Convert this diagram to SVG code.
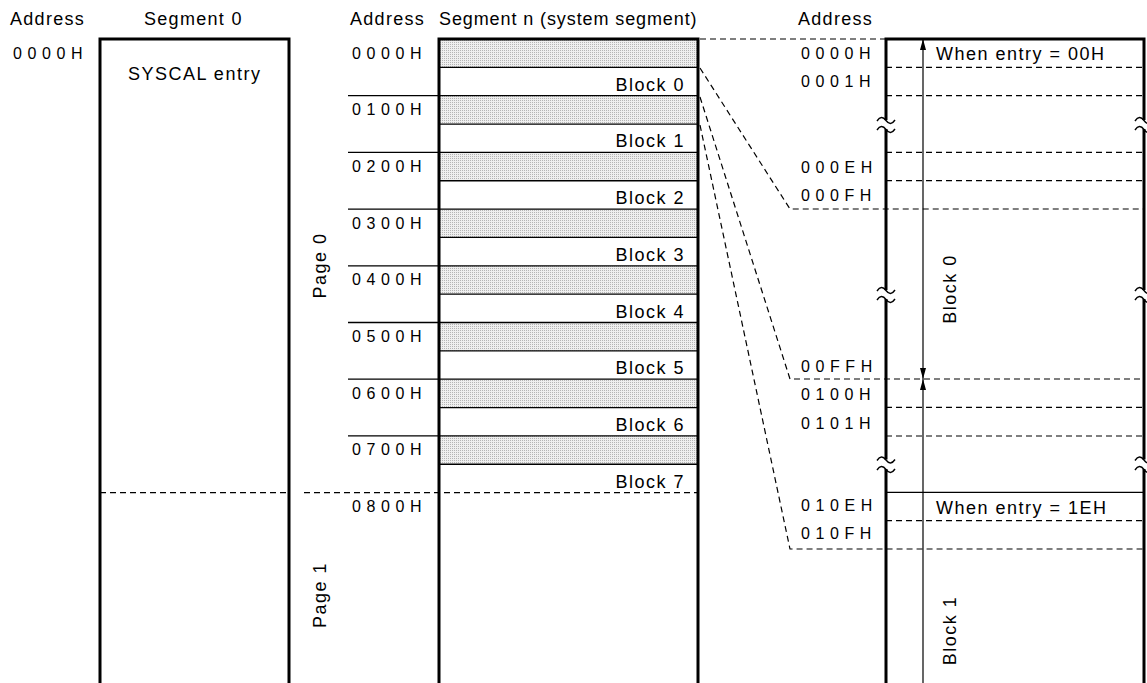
<svg xmlns="http://www.w3.org/2000/svg" width="1147" height="683" viewBox="0 0 1147 683">
<style>
text{font-family:"Liberation Sans",Arial,Helvetica,sans-serif;fill:#000}
.h{font-size:18px;letter-spacing:1.3px}
.lb{font-size:18px;letter-spacing:1.5px}
.ad{font-size:16px;letter-spacing:5.6px}
.edge{fill:none;stroke:#000;stroke-width:3}
.sep{stroke:#000;stroke-width:1.3;fill:none}
.dash{stroke:#000;stroke-width:1.2;stroke-dasharray:6 4;fill:none}
.brk{fill:none;stroke:#000;stroke-width:1.4}
.grey{fill:url(#dots)}
.arr{stroke:#000;stroke-width:1.2;fill:none}
</style>
<defs>
<pattern id="dots" width="2" height="2" patternUnits="userSpaceOnUse">
<rect width="2" height="2" fill="#efefef"/>
<rect width="1" height="1" fill="#b5b5b5"/>
</pattern>
<marker id="ah" viewBox="0 0 11 6" refX="11" refY="3" markerWidth="11" markerHeight="6" markerUnits="userSpaceOnUse" orient="auto-start-reverse">
<path d="M0,0 L11,3 L0,6 z" fill="#000"/>
</marker>
<path id="tilde" d="M-9,1 C-6,-3.5 -3,-3.5 0,0.5 C3,4.5 6,4.5 9,0" class="brk"/>
</defs>

<g id="headers">
<text class="h" x="10" y="25">Address</text>
<text class="h" x="144" y="25">Segment 0</text>
<text class="h" x="350" y="25">Address</text>
<text class="h" x="439" y="25" style="letter-spacing:0.9px">Segment n (system segment)</text>
<text class="h" x="798" y="25">Address</text>
</g>

<g id="segment0">
<path class="edge" d="M100,683 V39 H289 V683"/>
<text class="ad" x="13" y="58.5">0000H</text>
<text class="lb" x="128" y="80">SYSCAL entry</text>
<text class="lb" transform="translate(326,265.5) rotate(-90)" text-anchor="middle">Page 0</text>
<text class="lb" transform="translate(326,595) rotate(-90)" text-anchor="middle">Page 1</text>
</g>

<g id="segmentN">
<rect class="grey" x="439" y="39" width="259" height="28.35"/>
<rect class="grey" x="439" y="95.7" width="259" height="28.35"/>
<rect class="grey" x="439" y="152.4" width="259" height="28.35"/>
<rect class="grey" x="439" y="209.1" width="259" height="28.35"/>
<rect class="grey" x="439" y="265.8" width="259" height="28.35"/>
<rect class="grey" x="439" y="322.5" width="259" height="28.35"/>
<rect class="grey" x="439" y="379.2" width="259" height="28.35"/>
<rect class="grey" x="439" y="435.9" width="259" height="28.35"/>
<path class="sep" d="M439,67.35 H698 M348,95.7 H698 M439,124.05 H698 M348,152.4 H698 M439,180.75 H698 M348,209.1 H698 M439,237.45 H698 M348,265.8 H698 M439,294.15 H698 M348,322.5 H698 M439,350.85 H698 M348,379.2 H698 M439,407.55 H698 M348,435.9 H698 M439,464.25 H698"/>
<path class="edge" d="M439,683 V39 H698 V683"/>
<text class="ad" x="352" y="58.5">0000H</text>
<text class="ad" x="352" y="115.2">0100H</text>
<text class="ad" x="352" y="171.9">0200H</text>
<text class="ad" x="352" y="228.6">0300H</text>
<text class="ad" x="352" y="285.3">0400H</text>
<text class="ad" x="352" y="342">0500H</text>
<text class="ad" x="352" y="398.7">0600H</text>
<text class="ad" x="352" y="455.4">0700H</text>
<text class="ad" x="352" y="512.1">0800H</text>
<text class="lb" x="685" y="90.7" text-anchor="end">Block 0</text>
<text class="lb" x="685" y="147.4" text-anchor="end">Block 1</text>
<text class="lb" x="685" y="204.1" text-anchor="end">Block 2</text>
<text class="lb" x="685" y="260.8" text-anchor="end">Block 3</text>
<text class="lb" x="685" y="317.5" text-anchor="end">Block 4</text>
<text class="lb" x="685" y="374.2" text-anchor="end">Block 5</text>
<text class="lb" x="685" y="430.9" text-anchor="end">Block 6</text>
<text class="lb" x="685" y="487.6" text-anchor="end">Block 7</text>
</g>

<g id="blockDetail">
<path class="dash" d="M886,67.3 H1144 M886,95.6 H1144 M886,152.3 H1144 M886,180.6 H1144 M886,407.3 H1144 M886,436 H1144 M886,520.7 H1144"/>
<path class="sep" d="M886,492.3 H1144"/>
<path class="edge" d="M886,683 V469 M886,459.5 V299 M886,290 V129 M886,120 V39 H1144 V120 M1144,129 V290 M1144,299 V459.5 M1144,469 V683"/>
<use href="#tilde" x="886" y="120"/>
<use href="#tilde" x="886" y="129"/>
<use href="#tilde" x="886" y="290"/>
<use href="#tilde" x="886" y="299"/>
<use href="#tilde" x="886" y="459.5"/>
<use href="#tilde" x="886" y="469"/>
<use href="#tilde" x="1144" y="120"/>
<use href="#tilde" x="1144" y="129"/>
<use href="#tilde" x="1144" y="290"/>
<use href="#tilde" x="1144" y="299"/>
<use href="#tilde" x="1144" y="459.5"/>
<use href="#tilde" x="1144" y="469"/>
<path class="arr" d="M923,379 V39" marker-start="url(#ah)" marker-end="url(#ah)"/>
<path class="arr" d="M923,379 V683" marker-start="url(#ah)"/>
<text class="ad" x="801" y="59">0000H</text>
<text class="ad" x="801" y="87">0001H</text>
<text class="ad" x="801" y="172.5">000EH</text>
<text class="ad" x="801" y="201">000FH</text>
<text class="ad" x="801" y="372">00FFH</text>
<text class="ad" x="801" y="400">0100H</text>
<text class="ad" x="801" y="428.5">0101H</text>
<text class="ad" x="801" y="511">010EH</text>
<text class="ad" x="801" y="539">010FH</text>
<text class="lb" x="936" y="60">When entry = 00H</text>
<text class="lb" x="936" y="514">When entry = 1EH</text>
<text class="lb" transform="translate(956,289) rotate(-90)" text-anchor="middle">Block 0</text>
<text class="lb" transform="translate(956,630.5) rotate(-90)" text-anchor="middle">Block 1</text>
</g>

<g id="connectors">
<path class="dash" d="M100,492.6 H289 M304,492.6 H698"/>
<path class="dash" d="M700,39 H886"/>
<path class="dash" d="M700,68 L790,209 H1144"/>
<path class="dash" d="M700,97 L790,379 H1144"/>
<path class="dash" d="M700,125 L790,549 H1144"/>
</g>
</svg>
